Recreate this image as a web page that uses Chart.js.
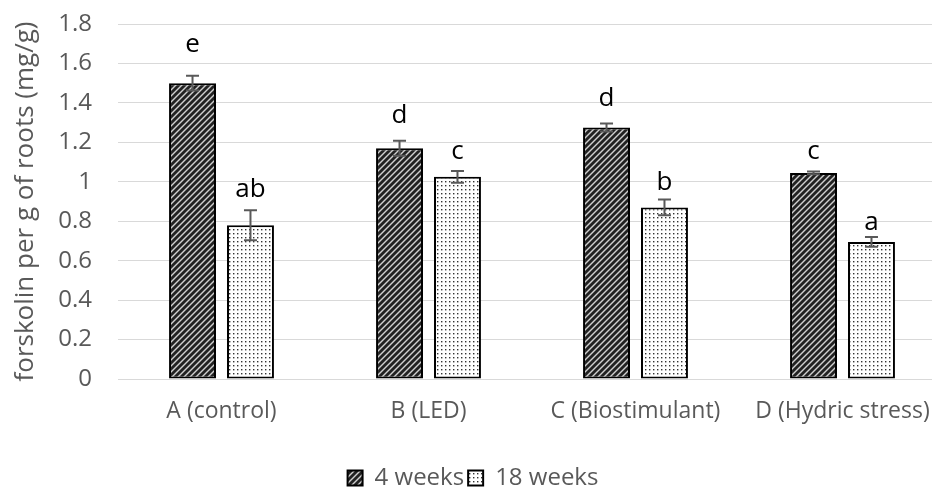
<!DOCTYPE html>
<html>
<head>
<meta charset="utf-8">
<script src="https://cdn.jsdelivr.net/npm/chart.js@4.4.1/dist/chart.umd.min.js"></script>
<style>
  html, body { margin: 0; padding: 0; background: #fff; overflow: hidden; }
  #wrap { width: 932px; height: 488px; overflow: hidden; }
</style>
</head>
<body>
<div id="wrap"><canvas id="chart" width="960" height="500"></canvas></div>
<script>
const categories = ['A (control)', 'B (LED)', 'C (Biostimulant)', 'D (Hydric stress)'];
const seriesNames = ['4 weeks', '18 weeks'];
const weeks4 = [1.50, 1.17, 1.275, 1.045];
const weeks18 = [0.78, 1.025, 0.87, 0.695];
const err4 = [0.037, 0.038, 0.02, 0.007];
const err18 = [0.076, 0.03, 0.04, 0.025];
const letters4 = ['e', 'd', 'd', 'c'];
const letters18 = ['ab', 'c', 'b', 'a'];
// where the letters sit (value of their baseline)
const letterPos4 = [1.66, 1.297, 1.386, 1.117];
const letterPos18 = [0.921, 1.114, 0.956, 0.758];
const yTickLabels = ['0', '0.2', '0.4', '0.6', '0.8', '1', '1.2', '1.4', '1.6', '1.8'];

const grey = '#595959';
const font = 'Open Sans';

function stripes() {
  const c = document.createElement('canvas');
  c.width = 6; c.height = 6;
  const g = c.getContext('2d');
  g.fillStyle = '#cfcfcf';
  g.fillRect(0, 0, 6, 6);
  g.strokeStyle = '#222';
  g.lineWidth = 2.8;
  [[-6, 6, 6, -6], [0, 6, 6, 0], [0, 12, 12, 0]].forEach(([a, b, cc, d]) => {
    g.beginPath(); g.moveTo(a, b); g.lineTo(cc, d); g.stroke();
  });
  return g.createPattern(c, 'repeat');
}

function dots() {
  const c = document.createElement('canvas');
  c.width = 4; c.height = 4;
  const g = c.getContext('2d');
  g.fillStyle = '#ffffff';
  g.fillRect(0, 0, 4, 4);
  g.fillStyle = '#333333';
  g.fillRect(1, 1, 1.4, 1.4);
  return g.createPattern(c, 'repeat');
}

const errs = [err4, err18];
const letters = [letters4, letters18];
const letterPos = [letterPos4, letterPos18];

const errorBars = {
  id: 'errorBars',
  afterDatasetsDraw(chart) {
    const ctx = chart.ctx;
    const y = chart.scales.y;
    chart.data.datasets.forEach((ds, i) => {
      const meta = chart.getDatasetMeta(i);
      meta.data.forEach((bar, j) => {
        const v = ds.data[j];
        const e = errs[i][j];
        const top = y.getPixelForValue(v + e);
        const bot = y.getPixelForValue(v - e);
        ctx.save();
        ctx.strokeStyle = grey;
        ctx.lineWidth = 2;
        ctx.beginPath();
        ctx.moveTo(bar.x, top); ctx.lineTo(bar.x, bot);
        ctx.moveTo(bar.x - 6.5, top); ctx.lineTo(bar.x + 6.5, top);
        ctx.moveTo(bar.x - 6.5, bot); ctx.lineTo(bar.x + 6.5, bot);
        ctx.stroke();
        ctx.fillStyle = '#000';
        ctx.font = '26px "' + font + '"';
        ctx.textAlign = 'center';
        ctx.textBaseline = 'alphabetic';
        ctx.fillText(letters[i][j], bar.x, y.getPixelForValue(letterPos[i][j]));
        ctx.restore();
      });
    });
  }
};

new Chart(document.getElementById('chart'), {
  type: 'bar',
  data: {
    labels: categories,
    datasets: [
      { label: seriesNames[0], data: weeks4, backgroundColor: stripes(), borderColor: '#000', borderWidth: 2, borderSkipped: false },
      { label: seriesNames[1], data: weeks18, backgroundColor: dots(), borderColor: '#000', borderWidth: 2, borderSkipped: false }
    ]
  },
  options: {
    responsive: false,
    animation: false,
    devicePixelRatio: 1,
    categoryPercentage: 0.56,
    barPercentage: 0.81,
    layout: { padding: { top: 24, right: 14, left: 0, bottom: 0 } },
    plugins: {
      tooltip: { enabled: false },
      legend: {
        position: 'bottom',
        labels: {
          color: grey,
          font: { family: font, size: 24 },
          boxWidth: 15,
          boxHeight: 15,
          padding: 4
        }
      }
    },
    scales: {
      x: {
        grid: { display: false, drawTicks: false },
        border: { display: false },
        ticks: { color: grey, font: { family: font, size: 23 }, padding: 19, maxRotation: 0 },
        afterFit(s) { s.height = 83; }
      },
      y: {
        min: 0,
        max: 1.8,
        ticks: {
          stepSize: 0.2, color: grey, font: { family: font, size: 24 }, padding: 26,
          callback: (v, i) => yTickLabels[i]
        },
        grid: { color: '#d9d9d9', lineWidth: 1, drawTicks: false },
        border: { display: false },
        title: {
          display: true,
          text: 'forskolin per g of roots (mg/g)',
          color: grey,
          font: { family: font, size: 26 },
          padding: { top: 10, bottom: 0 }
        },
        afterFit(s) { s.width = 118; s.paddingTop = 0; s.paddingBottom = 0; }
      }
    }
  },
  plugins: [errorBars]
});
</script>
</body>
</html>
